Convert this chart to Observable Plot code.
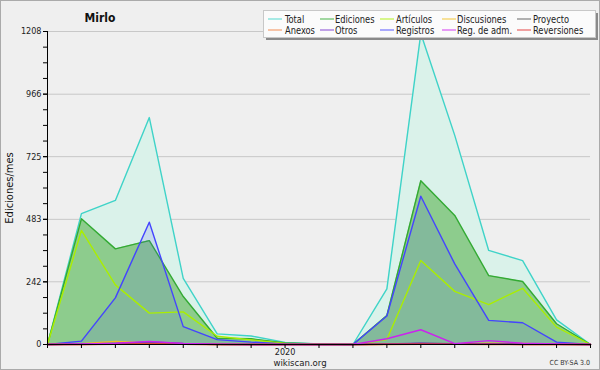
<!DOCTYPE html>
<html>
<head>
<meta charset="utf-8">
<script src="https://cdn.jsdelivr.net/npm/d3@7"></script>
<script src="https://cdn.jsdelivr.net/npm/@observablehq/plot@0.6"></script>
<style>
  html, body { margin: 0; padding: 0; background: #efefef; }
  svg { display: block; }
</style>
</head>
<body>
<div id="chart"></div>
<script>
// Months Jun 2019 .. Oct 2020
const months = ["2019-06","2019-07","2019-08","2019-09","2019-10","2019-11","2019-12",
  "2020-01","2020-02","2020-03","2020-04","2020-05","2020-06","2020-07","2020-08","2020-09","2020-10"];
const total       = [0, 505, 556, 876, 255, 41, 33, 8, 2, 0, 215, 1200, 807, 363, 324, 95, 0];
const ediciones   = [0, 485, 369, 401, 185, 24, 22, 6, 2, 0, 112, 632, 498, 266, 243, 80, 0];
const articulos   = [0, 440, 230, 121, 126, 32, 18, 4, 1, 0, 19, 324, 205, 154, 217, 67, 0];
const registros   = [0, 13, 180, 472, 69, 19, 9, 2, 0, 0, 110, 572, 311, 93, 84, 9, 0];
const regAdm      = [0, 2, 5, 12, 4, 1, 0, 0, 0, 0, 22, 57, 3, 15, 5, 2, 0];
const discusiones = [0, 3, 12, 6, 3, 1, 0, 0, 0, 0, 1, 2, 2, 5, 4, 1, 0];
const proyecto    = [0, 2, 4, 6, 3, 0, 0, 0, 0, 0, 1, 4, 3, 2, 2, 1, 0];
const anexos      = [0, 0, 2, 3, 1, 0, 0, 0, 0, 0, 0, 1, 1, 0, 0, 0, 0];
const otros       = [0, 1, 3, 10, 4, 1, 0, 0, 0, 0, 2, 5, 2, 3, 2, 1, 0];
const reversiones = [0, 0, 1, 2, 1, 0, 0, 0, 0, 0, 1, 2, 1, 1, 0, 0, 0];
const yMajor = [0, 242, 483, 725, 966, 1208];
const seriesNames = ["Total","Ediciones","Artículos","Discusiones","Proyecto",
  "Anexos","Otros","Registros","Reg. de adm.","Reversiones"];
const seriesColors = ["#3fd3c8","#33aa33","#aaee00","#f0c020","#555555",
  "#f08040","#7733cc","#4444ff","#cc22ee","#e03030"];

const rows = months.map((m, i) => ({
  i, month: m, total: total[i], ediciones: ediciones[i], articulos: articulos[i],
  registros: registros[i], regAdm: regAdm[i], discusiones: discusiones[i],
  proyecto: proyecto[i], anexos: anexos[i], otros: otros[i], reversiones: reversiones[i]
}));
const yMinor = d3.range(0, 21).map(k => k * 1208 / 20);
const FONT = "'DejaVu Sans Condensed', 'DejaVu Sans', sans-serif";

const lineOpts = (key, color) => Plot.lineY(rows, {x: "i", y: key, stroke: color, strokeWidth: 1.4});

const svg = Plot.plot({
  width: 600, height: 370,
  marginLeft: 47, marginRight: 10, marginTop: 31, marginBottom: 26,
  style: {background: "#efefef", fontFamily: FONT, fontSize: "9px", color: "#222"},
  x: {type: "linear", domain: [0, 16]},
  y: {domain: [0, 1208]},
  marks: [
    Plot.gridY(yMajor, {stroke: "#c8c8c8", strokeOpacity: 1}),
    Plot.areaY(rows, {x: "i", y: "total", fill: "#daf2ea"}),
    lineOpts("total", "#3fd3c8"),
    Plot.areaY(rows, {x: "i", y: "ediciones", fill: "#8dcc8d"}),
    lineOpts("ediciones", "#33aa33"),
    Plot.areaY(rows, {x: "i", y: "registros", fill: "#4444ff", fillOpacity: 0.13}),
    lineOpts("articulos", "#aaee00"),
    lineOpts("registros", "#4444ff"),
    lineOpts("discusiones", "#f0c020"),
    lineOpts("proyecto", "#555555"),
    lineOpts("anexos", "#f08040"),
    lineOpts("otros", "#7733cc"),
    lineOpts("reversiones", "#e03030"),
    lineOpts("regAdm", "#cc22ee"),
    Plot.axisY({ticks: yMinor, tickFormat: () => "", tickSize: 4, stroke: "#000"}),
    Plot.axisY({ticks: yMajor, tickFormat: d => String(d), tickSize: 4, tickPadding: 2, label: null, fill: "#222", stroke: "#000"}),
    Plot.axisX({ticks: d3.range(17), tickFormat: i => months[i] === "2020-01" ? "2020" : "", tickSize: 4, tickPadding: 0, label: null, fill: "#222", stroke: "#000"}),
    Plot.ruleX([0], {stroke: "#000"}),
    Plot.ruleY([0], {stroke: "#000"})
  ]
});

const s = d3.select(svg);
const addText = (x, y, str, size, opts = {}) => {
  const t = s.append("text").attr("x", x).attr("y", y)
    .attr("text-anchor", opts.anchor || "start")
    .attr("font-family", FONT).attr("font-size", size)
    .attr("fill", opts.fill || "#222").text(str);
  if (opts.bold) t.attr("font-weight", "bold");
  return t;
};
// Title
addText(100, 22, "Mirlo", 12, {anchor: "middle", bold: true, fill: "#111"});
// Y label
s.append("text").attr("transform", "translate(13,188) rotate(-90)").attr("text-anchor", "middle")
  .attr("font-family", FONT).attr("font-size", 11).attr("fill", "#111").text("Ediciones/mes");
// footer
addText(300, 366, "wikiscan.org", 9.5, {anchor: "middle"});
addText(590, 365, "CC BY-SA 3.0", 7, {anchor: "end", fill: "#333"});
// Legend
const lg = s.append("g");
lg.append("rect").attr("x", 266).attr("y", 13).attr("width", 332).attr("height", 27).attr("fill", "#8a8a8a");
lg.append("rect").attr("x", 263.5).attr("y", 10.5).attr("width", 332).attr("height", 27).attr("fill", "#fbfbfb").attr("stroke", "#c8c8c8");
const colLine = [268, 320, 380, 442, 517];
const colText = [285, 335, 396, 457, 533];
seriesNames.forEach((name, k) => {
  const col = k % 5, row = Math.floor(k / 5);
  const y = 18.5 + row * 11;
  lg.append("line").attr("x1", colLine[col]).attr("x2", colLine[col] + 14)
    .attr("y1", y + 0.5).attr("y2", y + 0.5)
    .style("stroke", seriesColors[k]).style("stroke-width", "1.2px").style("stroke-opacity", 0.75);
  lg.append("text").attr("transform", `translate(${colText[col]},${y + 4}) scale(0.88,1)`)
    .attr("text-anchor", "start")
    .attr("font-family", FONT).attr("font-size", 10.5).attr("fill", "#222").text(name);
});
// Outer border
s.append("rect").attr("x", 0.5).attr("y", 0.5).attr("width", 599).attr("height", 369)
  .attr("fill", "none").attr("stroke", "#aaaaaa");

document.getElementById("chart").appendChild(svg);
</script>
</body>
</html>
